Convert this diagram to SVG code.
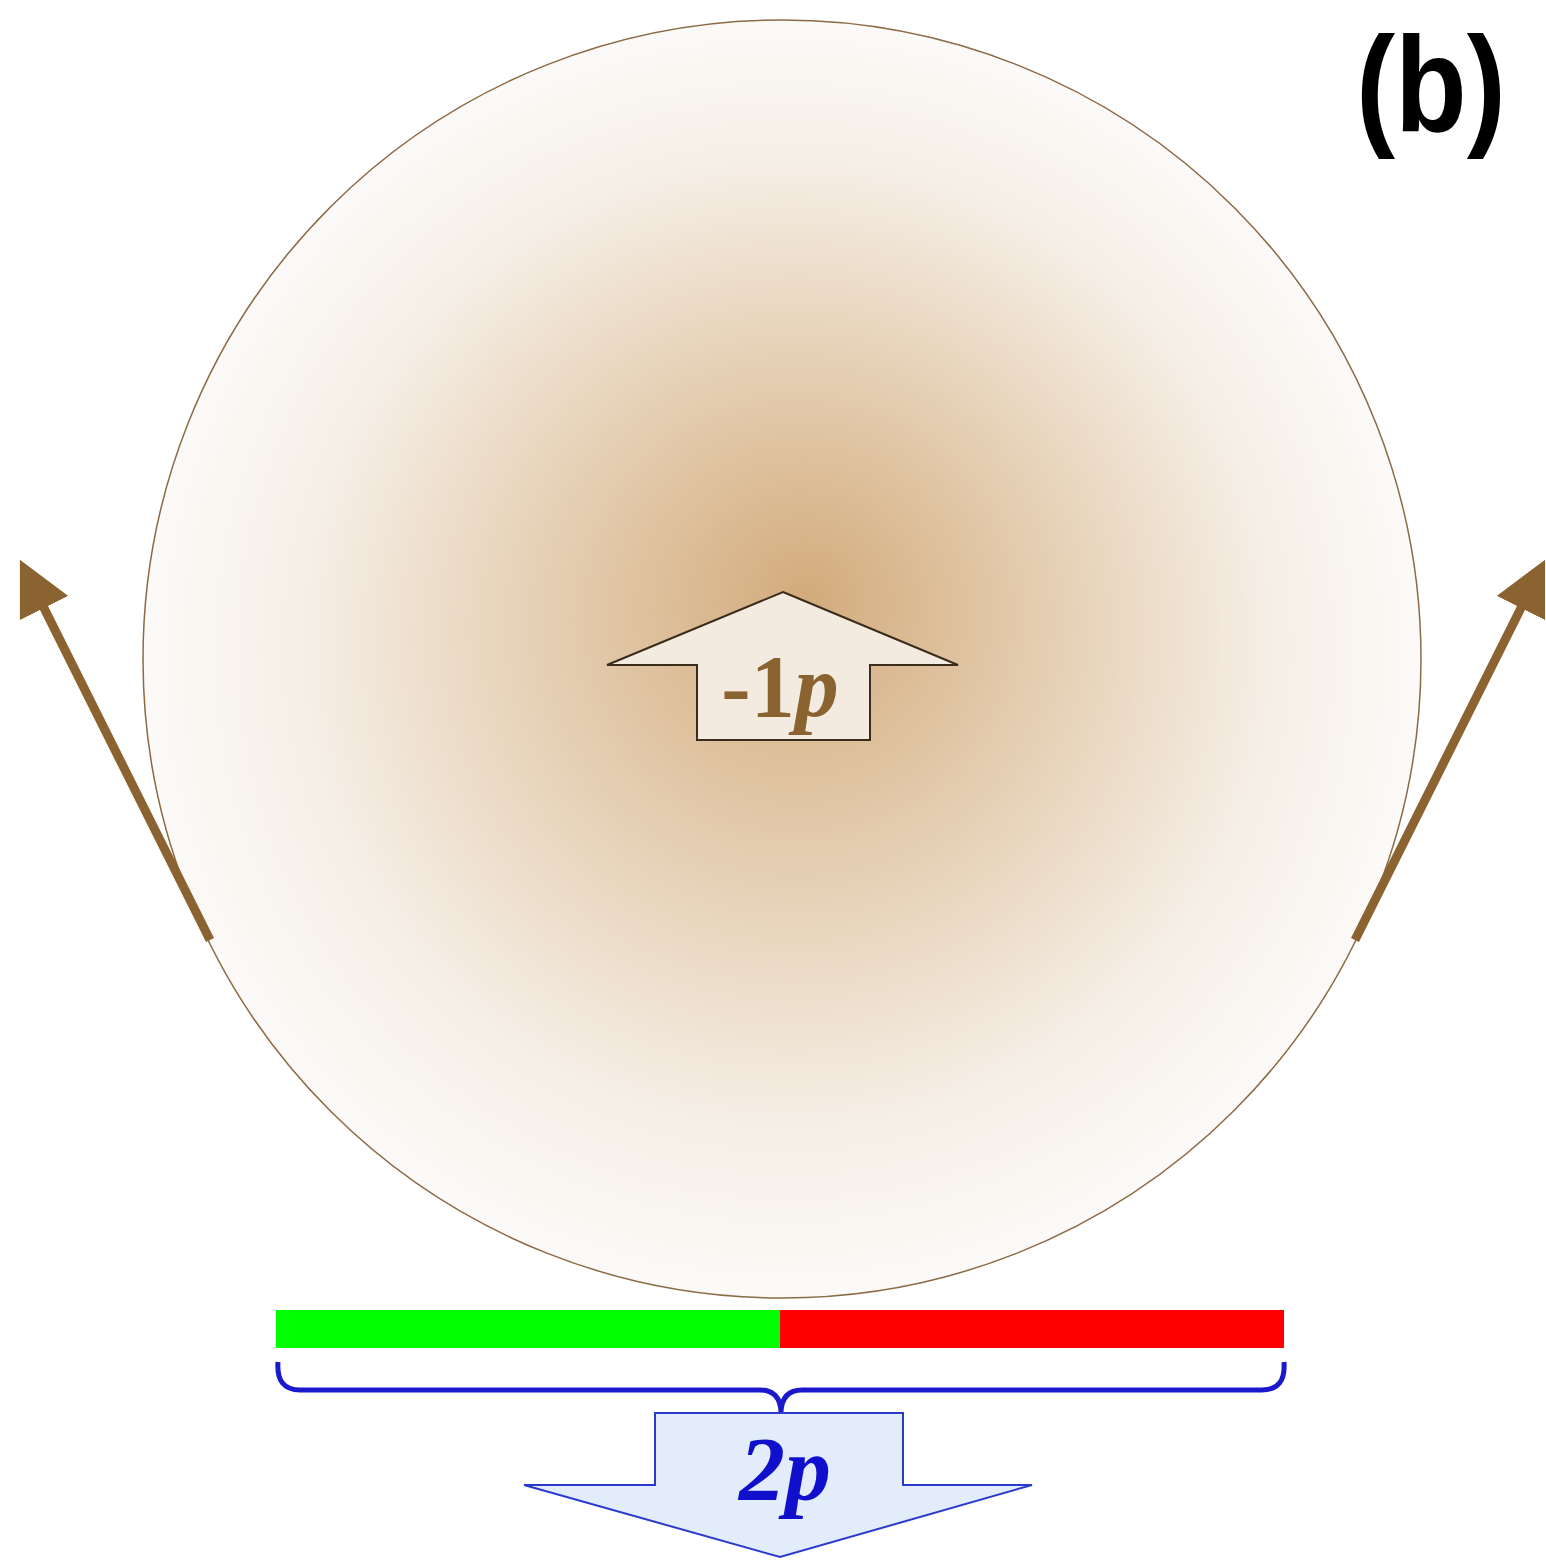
<svg xmlns="http://www.w3.org/2000/svg" width="1546" height="1560" viewBox="0 0 1546 1560">
<defs>
<radialGradient id="g" cx="0.5" cy="0.5" r="0.5" fx="0.52" fy="0.45">
<stop offset="0" stop-color="#d3ab7c"/>
<stop offset="0.4" stop-color="#e5cfb3"/>
<stop offset="0.75" stop-color="#f5eee5"/>
<stop offset="1" stop-color="#fcfaf8"/>
</radialGradient>
<marker id="ah" viewBox="0 0 10 10" refX="2" refY="5" markerWidth="6" markerHeight="6" orient="auto" markerUnits="strokeWidth">
<path d="M0,0 L10,5 L0,10 Z" fill="#8b6330"/>
</marker>
<style>
.arr{stroke:#8b6330;stroke-width:9;fill:none}
.lbl{font-family:"Liberation Serif",serif;font-weight:bold;text-anchor:middle}
</style>
</defs>
<rect width="1546" height="1560" fill="#ffffff"/>
<g id="circle">
<circle cx="782" cy="659" r="639" fill="url(#g)" stroke="#8b6a45" stroke-width="1.5"/>
</g>
<g id="upArrow">
<path d="M783,592 L958,665 L870,665 L870,740 L697,740 L697,665 L607,665 Z" fill="#f3ebe0" stroke="#3a2c1c" stroke-width="2"/>
<text class="lbl" x="780" y="716" font-size="88" fill="#8b6330">-1<tspan font-style="italic">p</tspan></text>
</g>
<g id="connectors">
<line class="arr" x1="210" y1="940" x2="39.2" y2="598.4" marker-end="url(#ah)"/>
<line class="arr" x1="1355" y1="940" x2="1525.8" y2="598.4" marker-end="url(#ah)"/>
</g>
<g id="bar">
<rect x="276" y="1310" width="504" height="38" fill="#00ff00"/>
<rect x="780" y="1310" width="504" height="38" fill="#ff0000"/>
</g>
<g id="brace">
<path d="M278,1362 Q276,1390 300,1390 L760,1390 Q780,1390 781,1412 Q782,1390 802,1390 L1262,1390 Q1286,1390 1284,1362" fill="none" stroke="#1a1acc" stroke-width="5"/>
</g>
<g id="downArrow">
<path d="M655,1413 L903,1413 L903,1485 L1032,1485 L780,1557 L524,1485 L655,1485 Z" fill="#e3ecfb" stroke="#2a3acc" stroke-width="2"/>
<text class="lbl" x="785" y="1500" font-size="92" fill="#1010cc" font-style="italic">2p</text>
</g>
<g id="label">
<text x="1431" y="131" font-family="Liberation Sans,Arial,sans-serif" font-weight="bold" font-size="135" text-anchor="middle" textLength="150" lengthAdjust="spacingAndGlyphs" fill="#000">(b)</text>
</g>
</svg>
